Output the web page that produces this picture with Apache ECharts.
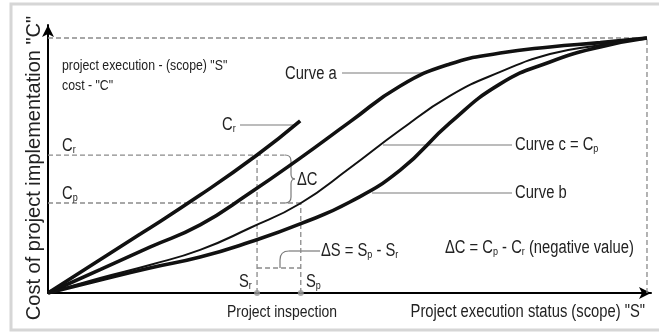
<!DOCTYPE html>
<html>
<head>
<meta charset="utf-8">
<script src="https://cdn.jsdelivr.net/npm/echarts@6/dist/echarts.min.js"></script>
<style>
  html, body { margin: 0; padding: 0; background: #fff; }
  #main { width: 659px; height: 334px; }
</style>
</head>
<body>
<div id="main"></div>
<script>
// points: [scope S, cost C], 0..100 on both axes
var curveA = [[0, 0], [8.7, 9.2], [17.0, 18.0], [25.4, 26.7], [33.7, 39.2], [42.1, 52.9], [50.4, 67.1],
              [58.8, 81.2], [67.1, 89.8], [75.5, 94.1], [83.8, 96.5], [92.2, 98.2], [100, 100]];
var curveC = [[0, 0], [8.7, 5.9], [17.0, 11.0], [25.4, 16.9], [33.7, 25.5], [42.1, 35.1], [50.4, 49.0],
              [58.8, 63.9], [67.1, 77.3], [75.5, 86.7], [83.8, 93.7], [92.2, 97.3], [100, 100]];
var curveB = [[0, 0], [8.7, 5.1], [17.0, 9.8], [25.4, 14.1], [33.7, 20.0], [42.1, 27.1], [50.4, 35.7],
              [58.8, 48.2], [67.1, 66.7], [75.5, 82.0], [83.8, 90.6], [92.2, 96.5], [100, 100]];
var curveCr = [[0, 0], [15.4, 23.1], [25.4, 38.4], [34.9, 54.1], [42.1, 67.5]];

// inspection point
var Sr = 34.9, Sp = 42.2;
var Cr = 54.1, Cp = 35.3;
var dsLevel = 9.8;    // height of the dashed ΔS bracket
var braceS = 39.5;    // where the Cr line meets the ΔC brace

var FONT = '"Liberation Sans", Arial, sans-serif';
var NARROW = 0.82;   // squeeze Arial into Arial Narrow
var chart = echarts.init(document.getElementById('main'));

function dashed(data) {
    return { type: 'line', data: data, symbol: 'none', silent: true, z: 1,
        lineStyle: { color: '#8a8a8a', width: 1.3, type: [5, 3] } };
}
function curve(data, w) {
    return { type: 'line', data: data, symbol: 'none', smooth: 0.5, z: 3,
        lineStyle: { color: '#111', width: w } };
}
function axis(max) {
    return { type: 'value', min: 0, max: max,
        axisLine: { lineStyle: { color: '#000', width: 2 }, symbol: ['none', 'arrow'], symbolSize: [9, 12] },
        axisTick: { show: false }, axisLabel: { show: false }, splitLine: { show: false } };
}

var sub = { fontSize: 11, fontFamily: FONT, fill: '#222', verticalAlign: 'bottom' };
function txt(x, y, text, size, align) {
    return { type: 'text', silent: true, z: 10, x: x, y: y, scaleX: NARROW,
        style: { text: text, x: 0, y: 0, fill: '#222', fontSize: size, fontFamily: FONT,
                 align: align || 'left', verticalAlign: 'middle', rich: { s: sub } } };
}
var grey = { stroke: '#7a7a7a', lineWidth: 1.2, fill: 'none' };
function seg(x1, y1, x2, y2) {
    return { type: 'line', silent: true, shape: { x1: x1, y1: y1, x2: x2, y2: y2 }, style: grey };
}
function bend(x1, y1, cx, cy, x2, y2) {
    return { type: 'bezierCurve', silent: true,
        shape: { x1: x1, y1: y1, cpx1: cx, cpy1: cy, x2: x2, y2: y2 }, style: grey };
}

chart.setOption({
    animation: false,
    grid: { left: 48, right: 8, top: 25, bottom: 41 },
    xAxis: axis(100.67),
    yAxis: axis(105.1),
    series: [
        dashed([[0, 100], [100, 100]]),
        dashed([[100, 0], [100, 100]]),
        dashed([[0, Cr], [braceS, Cr]]),
        dashed([[0, Cp], [Sp, Cp]]),
        dashed([[Sr, 0], [Sr, Cr]]),
        dashed([[Sp, 0], [Sp, Cp]]),
        dashed([[Sr, dsLevel], [Sp, dsLevel]]),
        { type: 'scatter', data: [[Sr, 0], [Sp, 0]], symbolSize: 6, z: 4, silent: true,
          itemStyle: { color: '#9a9a9a' } },
        curve(curveA, 3.6),
        curve(curveB, 3.6),
        curve(curveC, 2),
        curve(curveCr, 3.6)
    ],
    graphic: [
        { type: 'rect', silent: true, shape: { x: 11, y: 4, width: 660, height: 326 },
          style: { fill: 'none', stroke: '#d6d6d6', lineWidth: 3 } },
        txt(62, 66, 'project execution - (scope) "S"', 15),
        txt(62, 86, 'cost - "C"', 15),
        txt(62, 146, 'C{s|r}', 18),
        txt(62, 194, 'C{s|p}', 18),
        txt(222, 125, 'C{s|r}', 18),
        seg(240, 125, 296, 125),
        txt(285, 74, 'Curve a', 18),
        seg(342, 73, 424, 73),
        txt(515, 145, 'Curve c = C{s|p}', 18),
        seg(383, 145, 512, 145),
        txt(515, 193, 'Curve b', 18),
        seg(372, 193, 512, 193),
        txt(297, 180, 'ΔC', 18),
        // ΔC brace
        bend(285, 155, 291, 155, 291, 161),
        seg(291, 161, 291, 174),
        bend(291, 174, 291, 179, 295, 179),
        bend(295, 179, 291, 179, 291, 184),
        seg(291, 184, 291, 197),
        bend(291, 197, 291, 203, 285, 203),
        txt(321, 251, 'ΔS = S{s|p} - S{s|r}', 18),
        seg(280, 268, 280, 260),
        bend(280, 260, 280, 251, 289, 251),
        seg(289, 251, 320, 251),
        txt(239, 282, 'S{s|r}', 18),
        txt(306, 282, 'S{s|p}', 18),
        txt(445, 248, 'ΔC = C{s|p} - C{s|r} (negative value)', 18),
        txt(227, 312, 'Project inspection', 17),
        txt(645, 312, 'Project execution status (scope) "S"', 18, 'right'),
        { type: 'text', silent: true, x: 34, y: 168, rotation: Math.PI / 2,
          style: { text: 'Cost of project implementation "C"', fill: '#222', fontSize: 20,
                   fontFamily: FONT, align: 'center', verticalAlign: 'middle' } }
    ]
});
</script>
</body>
</html>
